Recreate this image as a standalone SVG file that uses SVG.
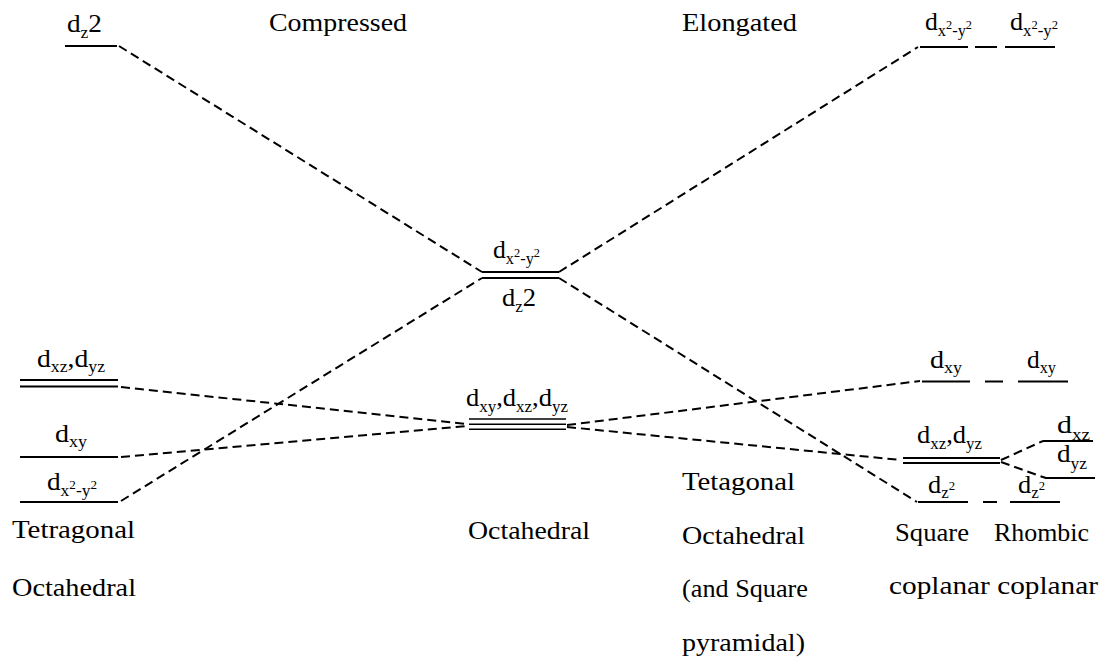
<svg xmlns="http://www.w3.org/2000/svg" width="1108" height="671" viewBox="0 0 1108 671">
<style>
text{font-family:"Liberation Serif","Times New Roman",serif;fill:#000}
.t{font-size:26px}
.l{font-size:25px}
.s{font-size:16px}
.p{font-size:12px}
.lvl{stroke:#000;stroke-width:2;fill:none}
.thin{stroke:#000;stroke-width:1.6;fill:none}
.dash{stroke:#000;stroke-width:2;stroke-dasharray:9 5;fill:none}
</style>
<rect width="1108" height="671" fill="#fff"/>

<g id="connectors">
<line class="dash" x1="119" y1="46" x2="482" y2="272"/>
<line class="dash" x1="121" y1="501" x2="482" y2="278"/>
<line class="dash" x1="559" y1="272" x2="918" y2="47"/>
<line class="dash" x1="559" y1="278" x2="917" y2="502"/>
<line class="dash" x1="121" y1="387" x2="467" y2="424"/>
<line class="dash" x1="121" y1="457" x2="467" y2="426"/>
<line class="dash" x1="567" y1="425" x2="920" y2="381"/>
<line class="dash" x1="567" y1="427" x2="901" y2="460"/>
<line class="dash" x1="1001" y1="460" x2="1043" y2="441"/>
<polyline class="dash" points="1001,462 1040,476 1046,478"/>
</g>

<g id="title-compressed"><text class="t" x="269" y="31" textLength="138" lengthAdjust="spacingAndGlyphs">Compressed</text></g>
<g id="title-elongated"><text class="t" x="682" y="31" textLength="115" lengthAdjust="spacingAndGlyphs">Elongated</text></g>

<g id="compressed-dz2">
<line class="lvl" x1="65" y1="46" x2="117" y2="46"/>
<text class="l" x="67" y="32" textLength="35" lengthAdjust="spacingAndGlyphs">d<tspan class="s" dy="6">z</tspan><tspan dy="-6">2</tspan></text>
</g>

<g id="compressed-dxz-dyz">
<line class="lvl" x1="20" y1="380" x2="118" y2="380"/>
<line class="lvl" x1="20" y1="386.5" x2="118" y2="386.5"/>
<text class="l" x="37" y="367" textLength="68" lengthAdjust="spacingAndGlyphs">d<tspan class="s" dy="5">xz</tspan><tspan dy="-5">,d</tspan><tspan class="s" dy="5">yz</tspan></text>
</g>

<g id="compressed-dxy">
<line class="lvl" x1="20" y1="457" x2="118" y2="457"/>
<text class="l" x="55" y="442" textLength="32" lengthAdjust="spacingAndGlyphs">d<tspan class="s" dy="5">xy</tspan></text>
</g>

<g id="compressed-dx2y2">
<line class="lvl" x1="20" y1="502" x2="118" y2="502"/>
<text class="l" x="47" y="490" textLength="50" lengthAdjust="spacingAndGlyphs">d<tspan class="s" dy="6">x</tspan><tspan class="p" dy="-7">2</tspan><tspan class="s" dy="7">-y</tspan><tspan class="p" dy="-7">2</tspan></text>
</g>

<g id="octahedral-eg">
<line class="lvl" x1="482" y1="272" x2="559" y2="272"/>
<line class="lvl" x1="482" y1="278" x2="559" y2="278"/>
<text class="l" x="493" y="258" textLength="47" lengthAdjust="spacingAndGlyphs">d<tspan class="s" dy="6">x</tspan><tspan class="p" dy="-7">2</tspan><tspan class="s" dy="7">-y</tspan><tspan class="p" dy="-7">2</tspan></text>
<text class="l" x="502" y="306" textLength="34" lengthAdjust="spacingAndGlyphs">d<tspan class="s" dy="6">z</tspan><tspan dy="-6">2</tspan></text>
</g>

<g id="octahedral-t2g">
<line class="thin" x1="469" y1="419" x2="566" y2="419"/>
<line class="thin" x1="469" y1="424.3" x2="566" y2="424.3"/>
<line class="thin" x1="469" y1="429.3" x2="566" y2="429.3"/>
<text class="l" x="466" y="406" textLength="102" lengthAdjust="spacingAndGlyphs">d<tspan class="s" dy="6">xy</tspan><tspan dy="-6">,d</tspan><tspan class="s" dy="6">xz</tspan><tspan dy="-6">,d</tspan><tspan class="s" dy="6">yz</tspan></text>
</g>

<g id="elongated-dx2y2">
<line class="lvl" x1="920" y1="47" x2="968" y2="47"/>
<text class="l" x="925" y="30" textLength="47" lengthAdjust="spacingAndGlyphs">d<tspan class="s" dy="6">x</tspan><tspan class="p" dy="-7">2</tspan><tspan class="s" dy="7">-y</tspan><tspan class="p" dy="-7">2</tspan></text>
</g>
<g id="rhombic-dx2y2">
<line class="lvl" x1="975" y1="47" x2="997" y2="47"/>
<line class="lvl" x1="1005" y1="47" x2="1055" y2="47"/>
<text class="l" x="1010" y="30" textLength="48" lengthAdjust="spacingAndGlyphs">d<tspan class="s" dy="6">x</tspan><tspan class="p" dy="-7">2</tspan><tspan class="s" dy="7">-y</tspan><tspan class="p" dy="-7">2</tspan></text>
</g>

<g id="elongated-dxy">
<line class="lvl" x1="922" y1="381.5" x2="970" y2="381.5"/>
<text class="l" x="930" y="368" textLength="32" lengthAdjust="spacingAndGlyphs">d<tspan class="s" dy="5">xy</tspan></text>
</g>
<g id="rhombic-dxy">
<line class="lvl" x1="985" y1="381.5" x2="1003" y2="381.5"/>
<line class="lvl" x1="1018" y1="381.5" x2="1068" y2="381.5"/>
<text class="l" x="1027" y="368" textLength="29" lengthAdjust="spacingAndGlyphs">d<tspan class="s" dy="5">xy</tspan></text>
</g>

<g id="elongated-dxz-dyz">
<line class="lvl" x1="903" y1="458" x2="1000" y2="458"/>
<line class="lvl" x1="903" y1="463" x2="1000" y2="463"/>
<text class="l" x="917" y="443" textLength="65" lengthAdjust="spacingAndGlyphs">d<tspan class="s" dy="6">xz</tspan><tspan dy="-6">,d</tspan><tspan class="s" dy="6">yz</tspan></text>
</g>

<g id="rhombic-dxz">
<line class="lvl" x1="1043" y1="441" x2="1093" y2="441"/>
<text class="l" x="1057" y="433" textLength="33" lengthAdjust="spacingAndGlyphs">d<tspan class="s" dy="7">xz</tspan></text>
</g>
<g id="rhombic-dyz">
<line class="lvl" x1="1045" y1="478" x2="1095" y2="478"/>
<text class="l" x="1057" y="462" textLength="30" lengthAdjust="spacingAndGlyphs">d<tspan class="s" dy="7">yz</tspan></text>
</g>

<g id="elongated-dz2">
<line class="lvl" x1="918" y1="502" x2="968" y2="502"/>
<text class="l" x="928" y="493" textLength="27" lengthAdjust="spacingAndGlyphs">d<tspan class="s" dy="5">z</tspan><tspan class="p" dy="-8">2</tspan></text>
</g>
<g id="rhombic-dz2">
<line class="lvl" x1="983" y1="502" x2="997" y2="502"/>
<line class="lvl" x1="1010" y1="502" x2="1060" y2="502"/>
<text class="l" x="1018" y="493" textLength="27" lengthAdjust="spacingAndGlyphs">d<tspan class="s" dy="5">z</tspan><tspan class="p" dy="-8">2</tspan></text>
</g>

<g id="caption-tetragonal">
<text class="t" x="12" y="538" textLength="123" lengthAdjust="spacingAndGlyphs">Tetragonal</text>
<text class="t" x="12" y="596" textLength="124" lengthAdjust="spacingAndGlyphs">Octahedral</text>
</g>
<g id="caption-octahedral">
<text class="t" x="468" y="539" textLength="122" lengthAdjust="spacingAndGlyphs">Octahedral</text>
</g>
<g id="caption-elongated">
<text class="t" x="682" y="490" textLength="113" lengthAdjust="spacingAndGlyphs">Tetagonal</text>
<text class="t" x="682" y="544" textLength="123" lengthAdjust="spacingAndGlyphs">Octahedral</text>
<text class="t" x="682" y="597" textLength="126" lengthAdjust="spacingAndGlyphs">(and Square</text>
<text class="t" x="682" y="651" textLength="123" lengthAdjust="spacingAndGlyphs">pyramidal)</text>
</g>
<g id="caption-square">
<text class="t" x="895" y="541" textLength="74" lengthAdjust="spacingAndGlyphs">Square</text>
</g>
<g id="caption-rhombic">
<text class="t" x="994" y="541" textLength="95" lengthAdjust="spacingAndGlyphs">Rhombic</text>
</g>
<g id="caption-coplanar">
<text class="t" x="889" y="594" textLength="209" lengthAdjust="spacingAndGlyphs">coplanar coplanar</text>
</g>
</svg>
